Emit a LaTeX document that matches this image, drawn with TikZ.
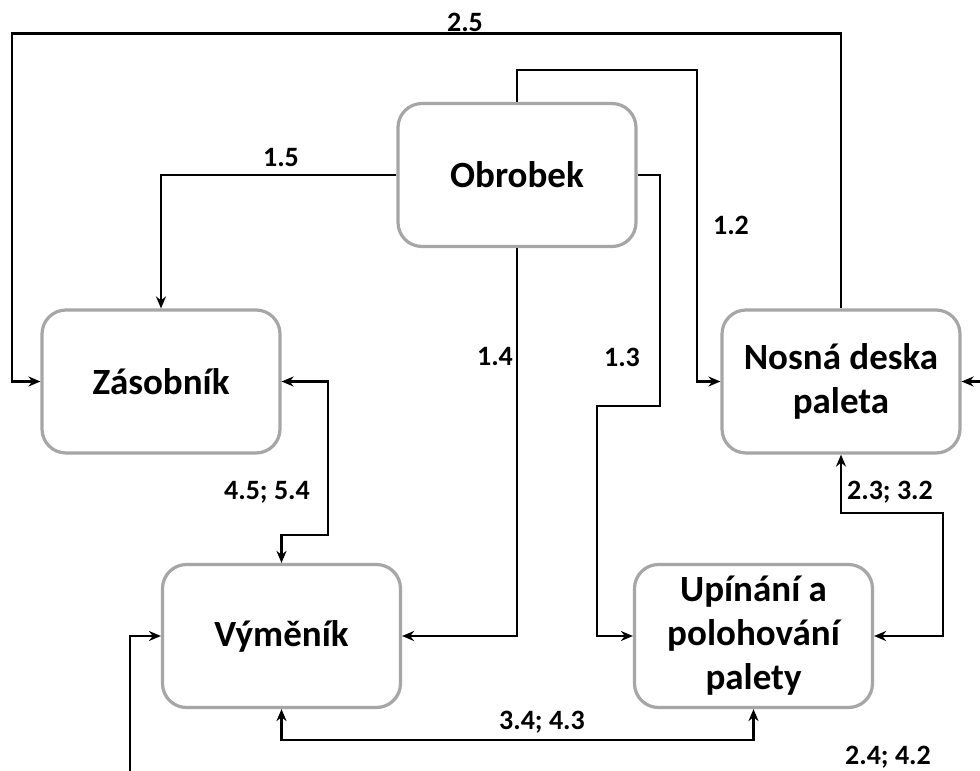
\documentclass[tikz,border=0pt]{standalone}
\usepackage{fontspec}
\setmainfont{Carlito}
\usetikzlibrary{arrows.meta}
\begin{document}
\begin{tikzpicture}[x=1pt,y=-1pt,
  block/.style={draw=black!35, line width=3.2pt, rounded corners=24pt, fill=white,
    minimum width=238pt, minimum height=143pt, align=center,
    font=\fontsize{37}{44}\selectfont\bfseries, inner sep=0pt},
  link/.style={line width=2.8pt, black, -{Stealth[length=12pt,width=10pt]}},
  both/.style={line width=2.8pt, black, {Stealth[length=12pt,width=10pt]}-{Stealth[length=12pt,width=10pt]}},
  lab/.style={font=\fontsize{28}{30}\selectfont\bfseries, inner sep=0pt}]
\useasboundingbox (0,0) rectangle (980,771);

% blocks
\node[block] (obr) at (517,175) {Obrobek};
\node[block] (zas) at (161,381.5) {Zásobník};
\node[block] (nos) at (841,381.5) {Nosná deska\\paleta};
\node[block] (vym) at (281.5,636) {Výměník};
\node[block] (upi) at (753.5,636) {Upínání a\\polohování\\palety};

% free ends at the picture border
\coordinate (inR) at (980,381.5);
\coordinate (inB) at (130,771);

% connectors
\draw[link] (nos.north) -- ++(0,-275) -| (12,381.5) -- (zas.west);
\draw[link] (obr.north) -- ++(0,-32) -| (697,381.5) -- (nos.west);
\draw[link] (obr.west) -| (zas.north);
\draw[link] (obr.south) |- (vym.east);
\draw[link] (obr.east) -| (660,406) -| (597,636) -- (upi.west);
\draw[both] (zas.east) -| (328,535) -| (vym.north);
\draw[both] (nos.south) |- (943,513) |- (upi.east);
\draw[both] (vym.south) |- (753.5,740) -- (upi.south);
\draw[link] (inR) -- (nos.east);
\draw[link] (inB) |- (vym.west);

% labels
\node[lab] (l25) at (465,22) {2.5};
\node[lab] (l12) at (731,225) {1.2};
\node[lab] (l15) at (281,158) {1.5};
\node[lab] (l14) at (495,357) {1.4};
\node[lab] (l13) at (622,357) {1.3};
\node[lab] (l4554) at (267,492) {4.5; 5.4};
\node[lab] (l2332) at (890,492) {2.3; 3.2};
\node[lab] (l3443) at (542,722) {3.4; 4.3};
\node[lab] (l2442) at (888,757) {2.4; 4.2};
\end{tikzpicture}
\end{document}
